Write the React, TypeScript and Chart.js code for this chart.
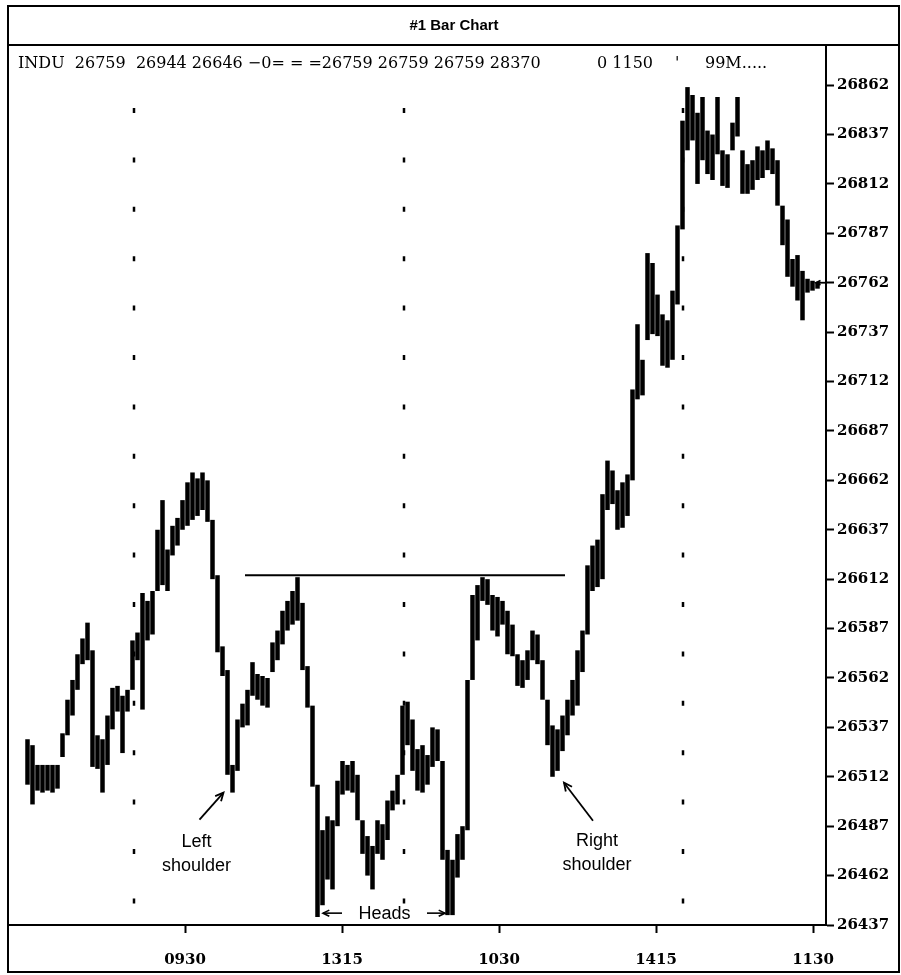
import React, { useEffect, useRef } from "react";
import { Chart, registerables } from "chart.js";

Chart.register(...registerables);

// ---- data ----
const barHighs: number[] = [
  26531, 26528, 26518, 26518, 26518, 26518, 26518, 26534, 26551, 26561,
  26574, 26582, 26590, 26576, 26533, 26531, 26543, 26557, 26558, 26553,
  26556, 26581, 26585, 26605, 26601, 26606, 26637, 26652, 26627, 26639,
  26643, 26652, 26661, 26666, 26663, 26666, 26662, 26642, 26614, 26578,
  26566, 26518, 26541, 26549, 26556, 26570, 26564, 26563, 26562, 26580,
  26586, 26596, 26601, 26606, 26613, 26600, 26568, 26548, 26508, 26485,
  26492, 26490, 26510, 26520, 26518, 26520, 26513, 26490, 26482, 26477,
  26490, 26488, 26500, 26505, 26513, 26548, 26550, 26541, 26526, 26528,
  26523, 26537, 26536, 26520, 26475, 26470, 26483, 26487, 26561, 26604,
  26609, 26613, 26612, 26604, 26603, 26601, 26596, 26589, 26574, 26571,
  26576, 26586, 26584, 26571, 26551, 26538, 26536, 26543, 26551, 26561,
  26576, 26586, 26619, 26629, 26632, 26655, 26672, 26667, 26657, 26661,
  26665, 26708, 26741, 26723, 26777, 26772, 26756, 26746, 26743, 26758,
  26791, 26844, 26861, 26857, 26848, 26856, 26839, 26837, 26856, 26829,
  26827, 26843, 26856, 26829, 26822, 26824, 26831, 26829, 26834, 26830,
  26824, 26801, 26794, 26774, 26776, 26768, 26764, 26763, 26762,
];
const barLows: number[] = [
  26508, 26498, 26505, 26504, 26505, 26504, 26506, 26522, 26533, 26543,
  26556, 26569, 26571, 26517, 26516, 26504, 26518, 26536, 26545, 26524,
  26545, 26556, 26571, 26546, 26581, 26584, 26606, 26609, 26606, 26624,
  26629, 26637, 26639, 26642, 26644, 26647, 26641, 26612, 26575, 26563,
  26513, 26504, 26515, 26537, 26538, 26553, 26551, 26548, 26547, 26565,
  26571, 26579, 26586, 26589, 26591, 26566, 26547, 26507, 26441, 26447,
  26460, 26455, 26487, 26503, 26505, 26504, 26490, 26473, 26462, 26455,
  26473, 26470, 26480, 26495, 26498, 26513, 26528, 26515, 26505, 26504,
  26508, 26517, 26520, 26470, 26442, 26442, 26461, 26470, 26485, 26561,
  26581, 26601, 26599, 26586, 26583, 26589, 26574, 26573, 26558, 26557,
  26561, 26571, 26569, 26551, 26528, 26512, 26515, 26525, 26533, 26543,
  26548, 26565, 26584, 26606, 26608, 26612, 26647, 26650, 26637, 26638,
  26644, 26662, 26703, 26705, 26733, 26736, 26735, 26720, 26719, 26723,
  26751, 26789, 26829, 26834, 26812, 26824, 26817, 26814, 26827, 26811,
  26810, 26829, 26836, 26807, 26807, 26809, 26814, 26815, 26819, 26817,
  26801, 26781, 26765, 26760, 26753, 26743, 26757, 26758, 26759,
];

const yTickValues: number[] = [
  26437, 26462, 26487, 26512, 26537, 26562, 26587, 26612, 26637,
  26662, 26687, 26712, 26737, 26762, 26787, 26812, 26837, 26862,
];
const yMin = 26437;
const yMax = 26882.3;

const xTickValues: number[] = [31.5, 62.9, 94.3, 125.7, 157.1];
const xTickLabels: string[] = ["0930", "1315", "1030", "1415", "1130"];
const xMin = -3.7;
const xMax = 159.7;

const sessionMarkers: number[] = [21.3, 75.3, 131.1];

const necklineLevel = 26614;
const necklineSpan: number[] = [43.5, 107.5];

const lastPriceLevel = 26762;

const titleText = "#1 Bar Chart";
const headerQuote = "INDU  26759  26944 26646 \u22120= = =26759 26759 26759 28370";
const headerVolume = "0 1150";
const headerTick = "'";
const headerMisc = "99M.....";

const leftShoulderLabel: string[] = ["Left", "shoulder"];
const rightShoulderLabel: string[] = ["Right", "shoulder"];
const headsLabel = "Heads";
const leftShoulderPoint = { x: 39.2, y: 26504 };
const rightShoulderPoint = { x: 107.3, y: 26509 };
const headsLevel = 26443;
const headsTargets: number[] = [59.1, 83.5];

function drawArrow(ctx: CanvasRenderingContext2D, x1: number, y1: number, x2: number, y2: number, head = 9) {
  ctx.beginPath();
  ctx.moveTo(x1, y1);
  ctx.lineTo(x2, y2);
  ctx.stroke();
  const a = Math.atan2(y2 - y1, x2 - x1);
  ctx.beginPath();
  ctx.moveTo(x2 - head * Math.cos(a - 0.45), y2 - head * Math.sin(a - 0.45));
  ctx.lineTo(x2, y2);
  ctx.lineTo(x2 - head * Math.cos(a + 0.45), y2 - head * Math.sin(a + 0.45));
  ctx.stroke();
}

const decorPlugin = {
  id: "decor",
  beforeDraw(chart: any) {
    const ctx = chart.ctx as CanvasRenderingContext2D;
    ctx.save();
    ctx.fillStyle = "#fff";
    ctx.fillRect(0, 0, chart.width, chart.height);
    ctx.restore();
  },
  beforeDatasetsDraw(chart: any) {
    const ctx = chart.ctx as CanvasRenderingContext2D;
    const { top, bottom } = chart.chartArea;
    const xs = chart.scales.x;
    ctx.save();
    ctx.strokeStyle = "#000";
    ctx.lineWidth = 2.5;
    ctx.setLineDash([5, 44.4]);
    sessionMarkers.forEach((m) => {
      const px = Math.round(xs.getPixelForValue(m));
      ctx.beginPath();
      ctx.moveTo(px, top + 63);
      ctx.lineTo(px, bottom - 5);
      ctx.stroke();
    });
    ctx.restore();
  },
  afterDraw(chart: any) {
    const ctx = chart.ctx as CanvasRenderingContext2D;
    const { left, right, top } = chart.chartArea;
    const xs = chart.scales.x;
    const ys = chart.scales.y;
    ctx.save();
    ctx.strokeStyle = "#000";
    ctx.fillStyle = "#000";
    // outer frame and title divider
    ctx.lineWidth = 2;
    ctx.strokeRect(8, 6, chart.width - 10, chart.height - 9);
    ctx.beginPath();
    ctx.moveTo(8, top);
    ctx.lineTo(chart.width - 2, top);
    ctx.stroke();

    // header quote line
    ctx.font = '16px "DejaVu Serif"';
    ctx.textBaseline = "middle";
    ctx.textAlign = "left";
    const hy = top + 19;
    ctx.fillText(headerQuote, left + 9, hy);
    ctx.fillText(headerVolume, left + 588, hy);
    ctx.fillText(headerTick, left + 666, hy);
    ctx.fillText(headerMisc, left + 696, hy);

    // neckline
    const ny = ys.getPixelForValue(necklineLevel);
    ctx.lineWidth = 2;
    ctx.beginPath();
    ctx.moveTo(xs.getPixelForValue(necklineSpan[0]), ny);
    ctx.lineTo(xs.getPixelForValue(necklineSpan[1]), ny);
    ctx.stroke();

    // last price marker at the axis
    const ly0 = ys.getPixelForValue(lastPriceLevel);
    ctx.lineWidth = 1.8;
    drawArrow(ctx, right - 1, ly0, right - 10, ly0, 5);

    // annotations
    ctx.font = '18px "Liberation Sans"';
    ctx.textAlign = "center";
    ctx.lineWidth = 1.8;

    const lx = xs.getPixelForValue(leftShoulderPoint.x);
    const ly = ys.getPixelForValue(leftShoulderPoint.y);
    drawArrow(ctx, lx - 24, ly + 27, lx, ly);
    ctx.fillText(leftShoulderLabel[0], lx - 27, ly + 49);
    ctx.fillText(leftShoulderLabel[1], lx - 27, ly + 73);

    const rx = xs.getPixelForValue(rightShoulderPoint.x);
    const ry = ys.getPixelForValue(rightShoulderPoint.y);
    drawArrow(ctx, rx + 29, ry + 38, rx, ry);
    ctx.fillText(rightShoulderLabel[0], rx + 33, ry + 58);
    ctx.fillText(rightShoulderLabel[1], rx + 33, ry + 82);

    const hyy = ys.getPixelForValue(headsLevel);
    const h1 = xs.getPixelForValue(headsTargets[0]);
    const h2 = xs.getPixelForValue(headsTargets[1]);
    const hc = (h1 + h2) / 2 + 0.5;
    ctx.fillText(headsLabel, hc, hyy + 1);
    ctx.lineWidth = 1.6;
    drawArrow(ctx, h1 + 19, hyy, h1, hyy, 7);
    drawArrow(ctx, h2 - 18, hyy, h2, hyy, 7);

    ctx.restore();
  },
};

export default function App() {
  const canvasRef = useRef<HTMLCanvasElement | null>(null);

  useEffect(() => {
    const canvas = canvasRef.current;
    if (!canvas) return;
    const data = barLows.map((lo, i) => ({ x: i, y: [lo, barHighs[i]] }));
    const axisFont = { family: '"DejaVu Serif"', size: 15, weight: "bold" as const };
    const chart = new Chart(canvas, {
      type: "bar",
      data: {
        datasets: [
          {
            data: data as any,
            backgroundColor: "#000",
            borderWidth: 0,
            barPercentage: 0.9,
            categoryPercentage: 1,
            grouped: false,
          } as any,
        ],
      },
      options: {
        animation: false,
        responsive: false,
        devicePixelRatio: 1,
        events: [],
        layout: { padding: { left: 9, right: 2, top: 6, bottom: 3 } },
        plugins: {
          legend: { display: false },
          tooltip: { enabled: false },
          title: {
            display: true,
            text: titleText,
            color: "#000",
            font: { family: '"Liberation Sans"', size: 15, weight: "bold" },
            padding: { top: 11, bottom: 10 },
          },
        },
        scales: {
          x: {
            type: "linear",
            min: xMin,
            max: xMax,
            offset: false,
            afterBuildTicks: (scale: any) => {
              scale.ticks = xTickValues.map((v) => ({ value: v }));
            },
            afterFit: (scale: any) => {
              scale.height = 47;
            },
            ticks: {
              autoSkip: false,
              maxRotation: 0,
              color: "#000",
              font: axisFont,
              padding: 18,
              callback: (_v: any, i: number) => xTickLabels[i],
            },
            grid: {
              offset: false,
              drawOnChartArea: false,
              drawTicks: true,
              tickLength: 8,
              tickColor: "#000",
              tickWidth: 2,
            },
            border: { display: true, color: "#000", width: 2 },
          },
          y: {
            type: "linear",
            position: "right",
            min: yMin,
            max: yMax,
            beginAtZero: false,
            afterBuildTicks: (scale: any) => {
              scale.ticks = yTickValues.map((v) => ({ value: v }));
            },
            afterFit: (scale: any) => {
              scale.width = 73;
            },
            ticks: {
              autoSkip: false,
              color: "#000",
              font: axisFont,
              padding: 3,
              callback: (v: any) => String(v),
            },
            grid: {
              drawOnChartArea: false,
              drawTicks: true,
              tickLength: 8,
              tickColor: "#000",
              tickWidth: 2,
            },
            border: { display: true, color: "#000", width: 2 },
          },
        },
      } as any,
      plugins: [decorPlugin],
    });
    return () => chart.destroy();
  }, []);

  return (
    <div style={{ position: "absolute", left: 0, top: 0, width: 901, height: 975, background: "#fff" }}>
      <canvas ref={canvasRef} width={901} height={975} style={{ display: "block" }} />
    </div>
  );
}
